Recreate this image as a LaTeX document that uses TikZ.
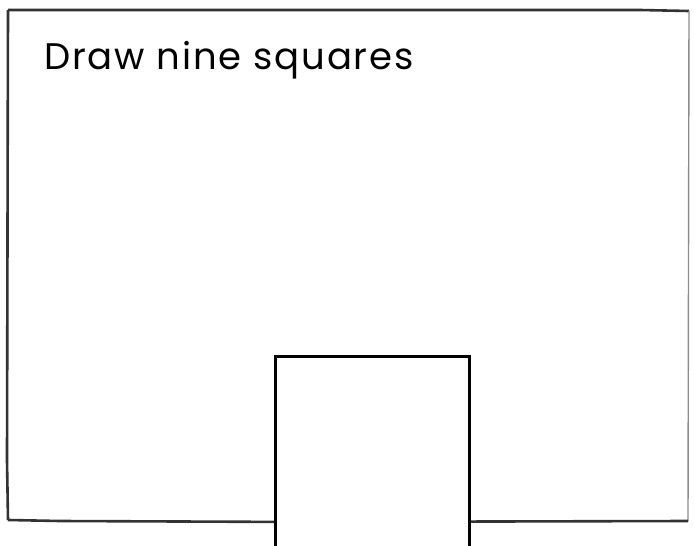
\documentclass[tikz,border=0pt]{standalone}
\usepackage{fontspec}
\setmainfont{Poppins}
\tikzset{
  frameline/.style={draw=black!80, line width=2.6pt, line join=round},
  sqbox/.style={draw=black, line width=3.2pt, fill=white, minimum width=194pt, minimum height=200pt, inner sep=0pt, anchor=north west, rectangle},
  title/.style={anchor=base west, inner sep=0pt, font=\fontsize{37}{40}\selectfont\addfontfeatures{LetterSpace=5}}
}
\begin{document}
\begin{tikzpicture}[x=1pt,y=-1pt]
\useasboundingbox (0,0) rectangle (694,546);
\fill[white] (0,0) rectangle (694,546);
\coordinate (tl) at (8,10);
\coordinate (tr) at (689,11);
\coordinate (br) at (688,521);
\coordinate (bl) at (8,520);
\draw[frameline] (tl) -- (640,10) -- (tr);
\draw[frameline, draw=black!45, line width=1.4pt] (tr) -- (br);
\draw[frameline] (br) -- (300,522) -- (60,521) -- (bl);
\draw[frameline] (bl) -- (7,460) -- (tl);
\node[title] (t) at (44,69) {Draw nine squares};
\node[sqbox] (sq) at (274,355) {};
\end{tikzpicture}
\end{document}
